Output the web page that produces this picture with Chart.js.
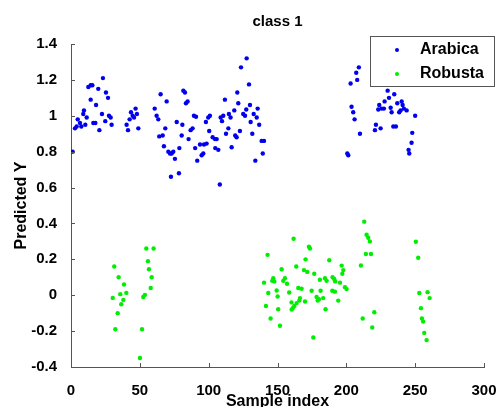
<!DOCTYPE html>
<html><head><meta charset="utf-8">
<script src="https://cdn.jsdelivr.net/npm/chart.js@4/dist/chart.umd.min.js"></script>
<style>html,body{margin:0;padding:0;background:#fff;}</style>
</head><body>
<canvas id="c" width="497" height="407"></canvas>
<script>
const chartTitle = 'class 1';
const xAxisTitle = 'Sample index';
const yAxisTitle = 'Predicted Y';
const seriesNames = ['Arabica', 'Robusta'];
const seriesColors = ['#0000ee', '#00ee00'];
const xTicks = [0, 50, 100, 150, 200, 250, 300];
const yTicks = [-0.4, -0.2, 0, 0.2, 0.4, 0.6, 0.8, 1, 1.2, 1.4];

const arabicaX = [1.2,2.9,4.1,4.9,6.5,7.5,8.9,9.4,10.4,11.4,12.6,14.3,14.3,15.5,16.2,17.7,18.2,19.8,20.6,22.5,23.2,24.9,25.4,26.9,27.6,28.8,29.5,
  40.4,41.4,42.6,43.6,44.8,45.8,46.9,47.9,48.9,
  60.8,62.2,63.4,64.1,65.1,66.6,67.5,68.5,69.5,70.7,71.9,72.6,73.1,74.3,75.5,76.8,78.4,78.7,80.4,80.9,81.6,82.8,83.5,84.7,85.4,86.9,88.3,89.3,90.2,90.8,91.7,93.7,94.9,96.1,96.6,98.0,98.5,99.7,100.4,100.9,102.9,104.6,104.8,105.8,107.0,108.1,108.7,109.7,110.6,111.8,112.6,114.3,114.7,115.9,116.7,118.6,119.3,120.3,120.8,121.5,122.7,123.5,125.1,126.4,127.3,127.6,129.3,130.0,130.5,131.7,132.7,133.9,134.9,135.6,136.7,138.5,139.3,140.2,
  200.7,201.4,203.1,203.8,205.0,206.0,207.2,207.9,209.1,209.9,220.8,221.5,223.2,223.9,224.9,225.6,227.3,227.8,230.0,231.0,232.2,232.9,234.1,234.8,236.0,237.0,238.4,239.4,240.2,240.9,241.8,243.8,245.2,245.7,247.4,247.9,250.0];
const arabicaY = [0.80,0.93,0.94,0.98,0.96,0.94,1.01,1.03,0.95,0.99,1.16,1.17,1.09,1.17,0.96,0.96,1.06,1.15,0.92,1.01,1.21,0.97,1.13,1.10,1.00,0.99,0.95,
  0.95,0.92,0.98,1.02,1.00,0.99,1.04,1.01,0.93,
  1.04,1.00,0.98,0.885,1.12,0.89,0.83,0.93,1.08,0.80,0.79,0.66,0.79,0.80,0.76,0.965,0.68,0.82,0.89,0.95,1.14,1.13,1.07,1.08,0.87,0.92,0.93,1.00,0.82,0.995,0.75,0.84,0.78,0.79,0.84,0.965,0.845,0.99,0.915,1.00,0.88,0.87,0.82,0.87,0.81,0.617,0.99,0.97,1.00,1.09,0.90,0.93,1.01,0.99,0.825,1.03,0.89,0.88,1.13,1.07,0.915,1.27,1.01,1.00,1.035,1.32,1.175,1.06,0.965,0.90,1.01,0.75,0.99,1.04,0.95,0.86,0.79,0.86,
  0.79,0.78,1.18,1.05,1.02,0.98,1.24,1.20,1.27,0.90,0.92,0.95,1.035,1.06,0.93,1.04,1.04,1.08,1.14,1.10,1.045,1.02,0.94,1.12,0.94,1.07,1.02,1.03,1.08,1.06,1.04,1.03,0.81,0.79,0.85,0.905,1.00];

const robustaX = [30.3,31.4,32.2,33.9,34.6,35.8,36.5,38.0,38.5,40.2,
  50.1,51.6,52.5,53.7,54.7,55.9,56.6,57.9,58.6,60.0,
  140.2,141.6,142.8,143.3,145.0,146.2,146.9,147.7,149.4,150.1,150.5,151.8,153.0,154.2,155.4,156.9,158.5,160.2,160.3,161.0,161.7,162.2,163.6,163.9,165.1,165.8,166.3,167.5,169.2,170.0,170.4,171.6,172.8,173.6,174.8,176.0,176.7,178.4,179.2,180.1,180.8,181.3,183.2,184.5,184.9,185.7,187.6,189.8,190.0,191.2,191.7,191.9,194.1,195.4,196.6,197.1,197.8,199.0,200.2,
  210.6,211.9,213.0,214.2,214.7,215.9,217.1,217.9,218.8,220.3,
  250.5,252.2,253.0,254.2,254.9,255.8,256.6,258.3,259.0,260.5];
const robustaY = [-0.015,0.16,-0.19,-0.10,0.10,0.006,-0.05,-0.026,0.06,0.013,
  -0.35,-0.19,-0.01,0.002,0.26,0.19,0.145,0.04,0.10,0.26,
  0.07,-0.06,0.225,0.012,-0.13,0.08,0.095,0.077,0.026,-0.007,-0.078,-0.17,0.145,0.08,0.095,0.064,0.015,-0.04,-0.08,-0.072,0.315,-0.06,0.16,-0.044,0.04,-0.03,-0.016,0.036,0.14,-0.035,0.20,0.13,0.27,0.26,0.025,-0.236,0.12,-0.01,-0.03,-0.022,0.086,0.025,-0.016,0.095,-0.078,0.08,0.195,0.025,0.10,0.09,0.02,0.077,-0.03,0.07,0.165,0.12,0.14,0.045,0.034,
  0.166,-0.13,0.41,0.23,0.337,0.32,0.30,0.23,-0.18,-0.095,
  0.298,0.209,0.012,-0.072,-0.13,-0.147,-0.21,-0.25,0.017,-0.016];

const toPts = (xs, ys) => xs.map((x, i) => ({x: x, y: ys[i]}));
const FONT = "'Liberation Sans', Arial, sans-serif";
const AXIS_COLOR = '#555555';

const decor = {
  id: 'decor',
  afterDraw(chart) {
    const ctx = chart.ctx, a = chart.chartArea;
    const xs = chart.scales.x, ys = chart.scales.y;
    ctx.save();
    // inward ticks
    ctx.strokeStyle = AXIS_COLOR; ctx.lineWidth = 1;
    ctx.beginPath();
    xs.ticks.forEach(t => { const p = Math.round(xs.getPixelForValue(t.value)) + 0.5; ctx.moveTo(p, a.bottom); ctx.lineTo(p, a.bottom - 4); });
    ys.ticks.forEach(t => { const p = Math.round(ys.getPixelForValue(t.value)) + 0.5; ctx.moveTo(a.left, p); ctx.lineTo(a.left + 4, p); });
    ctx.stroke();
    // title
    ctx.fillStyle = '#000';
    ctx.font = 'bold 15px ' + FONT;
    ctx.textAlign = 'center'; ctx.textBaseline = 'middle';
    ctx.fillText(chartTitle, (a.left + a.right) / 2, 22);
    // axis titles
    ctx.font = 'bold 16px ' + FONT;
    ctx.fillText(xAxisTitle, (a.left + a.right) / 2, 402);
    ctx.save();
    ctx.translate(22, (a.top + a.bottom) / 2);
    ctx.rotate(-Math.PI / 2);
    ctx.fillText(yAxisTitle, 0, 0);
    ctx.restore();
    // legend
    const bx = 370.5, by = 36.5, bw = 124, bh = 50;
    ctx.fillStyle = '#fff';
    ctx.fillRect(bx, by, bw, bh);
    ctx.strokeStyle = AXIS_COLOR; ctx.lineWidth = 1;
    ctx.strokeRect(bx, by, bw, bh);
    ctx.font = 'bold 16px ' + FONT;
    ctx.textAlign = 'left';
    chart.data.datasets.forEach((ds, i) => {
      const cy = 50 + i * 24;
      ctx.fillStyle = ds.backgroundColor;
      ctx.beginPath(); ctx.arc(397, cy, 2, 0, Math.PI * 2); ctx.fill();
      ctx.fillStyle = '#000';
      ctx.fillText(ds.label, 420, cy);
    });
    ctx.restore();
  }
};

new Chart(document.getElementById('c'), {
  type: 'scatter',
  data: {
    datasets: [
      {label: seriesNames[0], data: toPts(arabicaX, arabicaY), backgroundColor: seriesColors[0], borderColor: seriesColors[0], pointRadius: 2.2, borderWidth: 0},
      {label: seriesNames[1], data: toPts(robustaX, robustaY), backgroundColor: seriesColors[1], borderColor: seriesColors[1], pointRadius: 2.2, borderWidth: 0}
    ]
  },
  options: {
    responsive: false,
    animation: false,
    layout: {padding: {top: 44, right: 13, bottom: 0, left: 0}},
    plugins: {legend: {display: false}, title: {display: false}, tooltip: {enabled: false}},
    scales: {
      x: {
        type: 'linear', min: 0, max: 300,
        afterBuildTicks: s => { s.ticks = xTicks.map(v => ({value: v})); },
        afterFit: s => { s.height = 40; s.paddingLeft = 0; s.paddingRight = 0; },
        grid: {display: false},
        border: {display: true, color: AXIS_COLOR, width: 1},
        ticks: {color: '#000', padding: 7, maxRotation: 0, font: {family: FONT, size: 15, weight: 'bold'}, callback: v => String(v)}
      },
      y: {
        type: 'linear', min: -0.4, max: 1.4,
        afterBuildTicks: s => { s.ticks = yTicks.map(v => ({value: v})); },
        afterFit: s => { s.width = 71; s.paddingTop = 0; s.paddingBottom = 0; },
        grid: {display: false},
        border: {display: true, color: AXIS_COLOR, width: 1},
        ticks: {color: '#000', padding: 6, font: {family: FONT, size: 15, weight: 'bold'}, callback: v => String(Math.round(v * 10) / 10)}
      }
    }
  },
  plugins: [decor]
});
</script>
</body></html>
